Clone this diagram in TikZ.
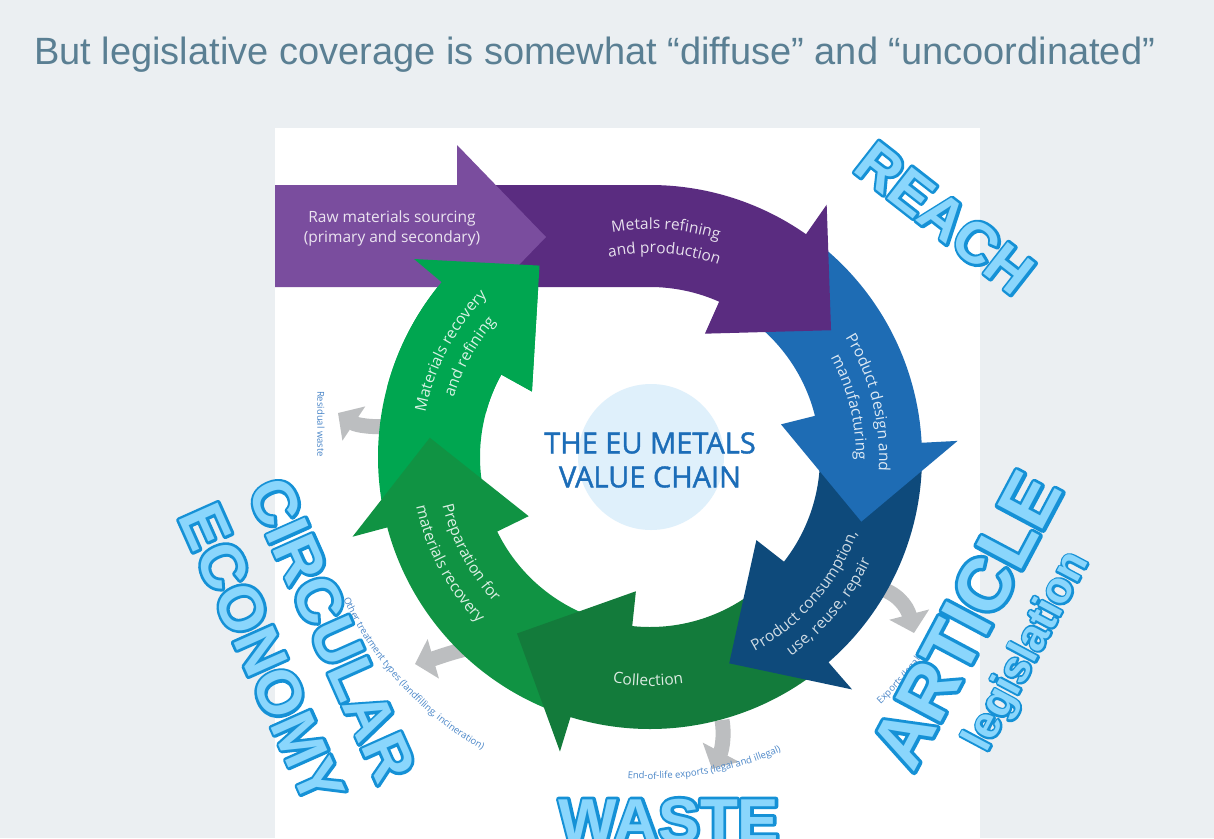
\documentclass[tikz,border=0pt]{standalone}
\usepackage{fontspec}
\setmainfont{Liberation Sans}
\newfontfamily\chainfont{Open Sans}
\newfontfamily\hubfont{Open Sans}[FakeBold=1.4]
\newfontfamily\wordedge{Liberation Sans Bold}[FakeBold=9]
\newfontfamily\wordface{Liberation Sans Bold}
\usetikzlibrary{calc,decorations.text,arrows.meta}
\definecolor{slidebg}{RGB}{235,239,242}
\definecolor{titleslate}{RGB}{90,127,147}
\definecolor{rawpurple}{RGB}{122,77,158}
\definecolor{metalpurple}{RGB}{90,44,128}
\definecolor{designblue}{RGB}{30,108,180}
\definecolor{usenavy}{RGB}{14,74,123}
\definecolor{collectgreen}{RGB}{19,123,59}
\definecolor{prepgreen}{RGB}{16,147,67}
\definecolor{recgreen}{RGB}{0,166,80}
\definecolor{flowgray}{RGB}{188,190,192}
\definecolor{hubblue}{RGB}{223,240,251}
\definecolor{hubtext}{RGB}{28,109,184}
\definecolor{smallblue}{RGB}{74,134,200}
\definecolor{wordfill}{RGB}{138,214,252}
\definecolor{wordline}{RGB}{21,145,214}
\newcommand{\outlined}[1]{\makebox[0pt][l]{\color{wordline}\wordedge #1}\wordface #1}
\begin{document}
\begin{tikzpicture}[x=1pt,y=-1pt,
		bigword/.style={text=wordfill,inner sep=0pt,font=\fontsize{#1}{#1}\selectfont},
		ringlabel/.style={inner sep=0pt,align=center,font=\chainfont\fontsize{15.5}{20}\selectfont},
		smalllabel/.style={inner sep=0pt,text=smallblue,font=\chainfont\fontsize{9.5}{10}\selectfont},
		outflow/.style={color=flowgray,line width=15pt,-{Triangle[width=40pt,length=19pt]}}]
	\useasboundingbox (0,0) rectangle (1214,838);
	\fill[color=slidebg] (0,0) rectangle (1214,838);
	\fill[color=white] (275,128) rectangle (980,838);
	\node[anchor=base west,inner sep=0pt,text=titleslate,font=\fontsize{38}{38}\selectfont] (title) at (34,64)
		{But legislative coverage is somewhat “diffuse” and “uncoordinated”};
	\coordinate (C) at (650,457);
	% grey outflows
	\draw[outflow] (392,426) .. controls (372,428) and (356,425) .. (338,413);
	\draw[outflow] (470,648) .. controls (452,652) and (436,658) .. (415,664);
	\draw[outflow] (722,720) .. controls (725,738) and (721,752) .. (712,769);
	\draw[outflow] (878,588) .. controls (896,592) and (907,606) .. (914,633);
	% the cycle
	\fill[color=recgreen] ($(C)+(170:272)$) arc[start angle=170,end angle=220,radius=272]
		-- ($(C)+(220:308)$) -- ($(C)+(240:221)$) -- ($(C)+(209:135)$) -- ($(C)+(209:170)$)
		arc[start angle=209,end angle=170,radius=170] -- cycle;
	\fill[color=prepgreen] ($(C)+(112:272)$) arc[start angle=112,end angle=165,radius=272]
		-- ($(C)+(165:308)$) -- ($(C)+(185:221)$) -- ($(C)+(154:135)$) -- ($(C)+(154:170)$)
		arc[start angle=154,end angle=112,radius=170] -- cycle;
	\fill[color=collectgreen] ($(C)+(50:272)$) arc[start angle=50,end angle=107,radius=272]
		-- ($(C)+(107:308)$) -- ($(C)+(127:221)$) -- ($(C)+(96:135)$) -- ($(C)+(96:170)$)
		arc[start angle=96,end angle=50,radius=170] -- cycle;
	\fill[color=usenavy] ($(C)+(0:272)$) arc[start angle=0,end angle=49,radius=272]
		-- ($(C)+(49:308)$) -- ($(C)+(69:221)$) -- ($(C)+(38:135)$) -- ($(C)+(38:170)$)
		arc[start angle=38,end angle=0,radius=170] -- cycle;
	\fill[color=designblue] ($(C)+(-50:272)$) arc[start angle=-50,end angle=-3,radius=272]
		-- ($(C)+(-3:308)$) -- ($(C)+(17:221)$) -- ($(C)+(-14:135)$) -- ($(C)+(-14:170)$)
		arc[start angle=-14,end angle=-50,radius=170] -- cycle;
	\fill[color=metalpurple] (470,185) -- ($(C)+(-90:272)$) arc[start angle=-90,end angle=-55,radius=272]
		-- ($(C)+(-55:308)$) -- ($(C)+(-35:221)$) -- ($(C)+(-66:135)$) -- ($(C)+(-66:170)$)
		arc[start angle=-66,end angle=-90,radius=170] -- (470,287) -- cycle;
	\fill[color=rawpurple] (275,185) -- (457,185) -- (457,145) -- (546,237) -- (457,329) -- (457,287) -- (275,287) -- cycle;
	\fill[color=recgreen] ($(C)+(195:272)$) arc[start angle=195,end angle=220,radius=272]
		-- ($(C)+(220:308)$) -- ($(C)+(240:221)$) -- ($(C)+(209:135)$) -- ($(C)+(209:170)$)
		arc[start angle=209,end angle=195,radius=170] -- cycle;
	% hub
	\fill[color=hubblue] (651,457) circle[radius=73];
	\node[align=center,inner sep=0pt,text=hubtext,font=\hubfont\fontsize{29}{34}\selectfont] (hub) at (650,460)
		{THE EU METALS\\VALUE CHAIN};
	% labels on the arrows
	\node[ringlabel,text=white!85!rawpurple] (raw) at (392,228) {Raw materials sourcing\\(primary and secondary)};
	\path[decorate,decoration={text along path,text align=center,
		text={|\chainfont\fontsize{15.5}{15.5}\selectfont\color{white!85!metalpurple}|Metals refining}}]
		($(C)+(-126:228)$) arc[start angle=-126,end angle=-46,radius=228];
	\path[decorate,decoration={text along path,text align=center,
		text={|\chainfont\fontsize{15.5}{15.5}\selectfont\color{white!85!metalpurple}|and production}}]
		($(C)+(-131:204)$) arc[start angle=-131,end angle=-41,radius=204];
	\path[decorate,decoration={text along path,text align=center,
		text={|\chainfont\fontsize{15.5}{15.5}\selectfont\color{white!85!designblue}|Product design and}}]
		($(C)+(-58:229)$) arc[start angle=-58,end angle=30,radius=229];
	\path[decorate,decoration={text along path,text align=center,
		text={|\chainfont\fontsize{15.5}{15.5}\selectfont\color{white!85!designblue}|manufacturing}}]
		($(C)+(-58:206)$) arc[start angle=-58,end angle=30,radius=206];
	\path[decorate,decoration={text along path,text align=center,
		text={|\chainfont\fontsize{15.5}{15.5}\selectfont\color{white!80!usenavy}|Product consumption,}}]
		($(C)+(84:221)$) arc[start angle=84,end angle=-2,radius=221];
	\path[decorate,decoration={text along path,text align=center,
		text={|\chainfont\fontsize{15.5}{15.5}\selectfont\color{white!80!usenavy}|use, reuse, repair}}]
		($(C)+(82:244)$) arc[start angle=82,end angle=-2,radius=244];
	\path[decorate,decoration={text along path,text align=center,
		text={|\chainfont\fontsize{15.5}{15.5}\selectfont\color{white!85!collectgreen}|Collection}}]
		($(C)+(125:229)$) arc[start angle=125,end angle=56,radius=229];
	\path[decorate,decoration={text along path,text align=center,
		text={|\chainfont\fontsize{15.5}{15.5}\selectfont\color{white!85!prepgreen}|Preparation for}}]
		($(C)+(195:213)$) arc[start angle=195,end angle=109,radius=213];
	\path[decorate,decoration={text along path,text align=center,
		text={|\chainfont\fontsize{15.5}{15.5}\selectfont\color{white!85!prepgreen}|materials recovery}}]
		($(C)+(195:239)$) arc[start angle=195,end angle=109,radius=239];
	\path[decorate,decoration={text along path,text align=center,
		text={|\chainfont\fontsize{15.5}{15.5}\selectfont\color{white!85!recgreen}|Materials recovery}}]
		($(C)+(165:229)$) arc[start angle=165,end angle=251,radius=229];
	\path[decorate,decoration={text along path,text align=center,
		text={|\chainfont\fontsize{15.5}{15.5}\selectfont\color{white!85!recgreen}|and refining}}]
		($(C)+(166:205)$) arc[start angle=166,end angle=252,radius=205];
	% outflow labels
	\node[smalllabel,rotate=-90] (residual) at (321,424) {Residual waste};
	\path[decorate,decoration={text along path,text align=center,
		text={|\chainfont\fontsize{9.5}{10}\selectfont\color{smallblue}|Other treatment types (landfilling, incineration)}}]
		($(C)+(182:338)$) arc[start angle=182,end angle=93,radius=338];
	\path[decorate,decoration={text along path,text align=center,
		text={|\chainfont\fontsize{9.5}{10}\selectfont\color{smallblue}|End-of-life exports (legal and illegal)}}]
		($(C)+(117:322)$) arc[start angle=117,end angle=43,radius=322];
	\path[decorate,decoration={text along path,
		text={|\chainfont\fontsize{9.5}{10}\selectfont\color{smallblue}|Exports (legal)}}]
		($(C)+(47:338)$) arc[start angle=47,end angle=5,radius=338];
	% legislation words
	\begin{scope}[line join=round]
		\node[bigword=58,rotate=-38] (reach) at (945,218) {\outlined{REACH}};
		\node[bigword=74,rotate=62] (article) at (966,620) {\outlined{ARTICLE}};
		\node[bigword=44,rotate=62] (legislation) at (1028,652) {\outlined{legislation}};
		\node[bigword=62,rotate=-66] (circular) at (332,630) {\outlined{CIRCULAR}};
		\node[bigword=62,rotate=-66] (economy) at (262,654) {\outlined{ECONOMY}};
		\node[bigword=62,anchor=base] (waste) at (669,842) {\outlined{WASTE}};
	\end{scope}
\end{tikzpicture}
\end{document}
